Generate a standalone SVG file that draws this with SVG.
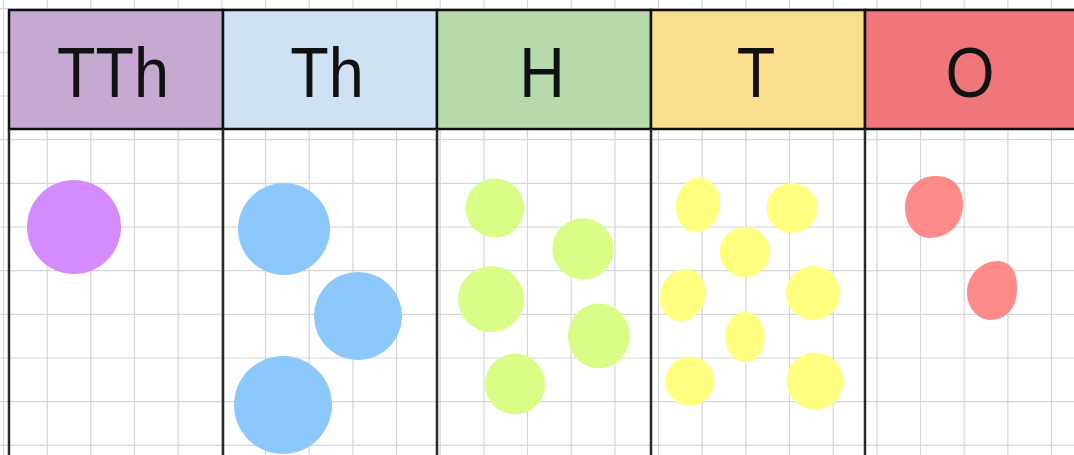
<svg xmlns="http://www.w3.org/2000/svg" width="1074" height="455" viewBox="0 0 1074 455">
<style>
.grid{stroke:#d6d6d6;stroke-width:1.2;fill:none}
.hdr{stroke:#111;stroke-width:2.5}
.div{stroke:#2a2a2a;stroke-width:2.5}
.lbl{font-family:"Liberation Sans",Arial,sans-serif;font-size:70px;fill:#111;text-anchor:middle}
.p{fill:#d38bff}.b{fill:#8cc7fd}.g{fill:#dafd88}.y{fill:#ffff80}.r{fill:#ff8a8a}
</style>
<rect width="1074" height="455" fill="#ffffff"/>
<g id="grid">
<path class="grid" d="M3.5 0V455M47.2 0V455M90.8 0V455M134.5 0V455M178.2 0V455M221.8 0V455M265.5 0V455M309.2 0V455M352.9 0V455M396.5 0V455M440.2 0V455M483.9 0V455M527.5 0V455M571.2 0V455M614.9 0V455M658.5 0V455M702.2 0V455M745.9 0V455M789.5 0V455M833.2 0V455M876.9 0V455M920.5 0V455M964.2 0V455M1007.9 0V455M1051.5 0V455"/>
<path class="grid" d="M0 8.7H1074M0 52.4H1074M0 96H1074M0 139.7H1074M0 183.4H1074M0 227H1074M0 270.7H1074M0 314.4H1074M0 358H1074M0 401.7H1074M0 445.4H1074"/>
</g>
<g id="col-TTh">
<rect x="9" y="10" width="214" height="119" fill="#c5a9d0" class="hdr"/>
<text class="lbl" transform="translate(113 97) scale(0.9 1)">TTh</text>
<circle class="p" cx="74" cy="227" r="47"/>
</g>
<g id="col-Th">
<rect x="223" y="10" width="214" height="119" fill="#cfe2f3" class="hdr"/>
<text class="lbl" transform="translate(327 97) scale(0.9 1)">Th</text>
<ellipse class="b" cx="284" cy="229" rx="46" ry="46"/>
<ellipse class="b" cx="358" cy="316" rx="44" ry="44"/>
<ellipse class="b" cx="283" cy="405" rx="49" ry="49"/>
</g>
<g id="col-H">
<rect x="437" y="10" width="214" height="119" fill="#b8daad" class="hdr"/>
<text class="lbl" transform="translate(542 97) scale(0.9 1)">H</text>
<circle class="g" cx="495" cy="208" r="29.5"/>
<circle class="g" cx="583" cy="249" r="30.7"/>
<circle class="g" cx="491" cy="299" r="33"/>
<ellipse class="g" cx="599" cy="336" rx="31" ry="32.5"/>
<circle class="g" cx="515" cy="384" r="30.3"/>
</g>
<g id="col-T">
<rect x="651" y="10" width="214" height="119" fill="#fbdd8e" class="hdr"/>
<text class="lbl" transform="translate(756 97) scale(0.9 1)">T</text>
<ellipse class="y" cx="698" cy="205" rx="22" ry="27.5" transform="rotate(10 698 205)"/>
<ellipse class="y" cx="792" cy="208" rx="25.5" ry="25"/>
<circle class="y" cx="745" cy="252" r="25.2"/>
<ellipse class="y" cx="683" cy="295" rx="22.5" ry="26.5" transform="rotate(20 683 295)"/>
<ellipse class="y" cx="813" cy="293" rx="27" ry="27"/>
<ellipse class="y" cx="745" cy="337" rx="19.7" ry="25.3"/>
<circle class="y" cx="690" cy="381" r="24.5"/>
<ellipse class="y" cx="815" cy="381" rx="28.5" ry="28.5"/>
</g>
<g id="col-O">
<rect x="865" y="10" width="220" height="119" fill="#ef777b" class="hdr"/>
<text class="lbl" transform="translate(970 97) scale(0.9 1)">O</text>
<path class="r" d="M934 176 C952 175 963 186 963 204 C963 224 950 237 930 238 C914 238 905 222 905 208 C905 190 918 176 934 176Z"/>
<path class="r" d="M998 261 C1011 262 1018 272 1017 290 C1017 308 1006 320 990 320 C976 319 967 306 967 293 C967 276 980 261 998 261Z"/>
</g>
<g id="dividers">
<path class="div" d="M9 129V455M223 129V455M437 129V455M651 129V455M865 129V455"/>
</g>
</svg>
